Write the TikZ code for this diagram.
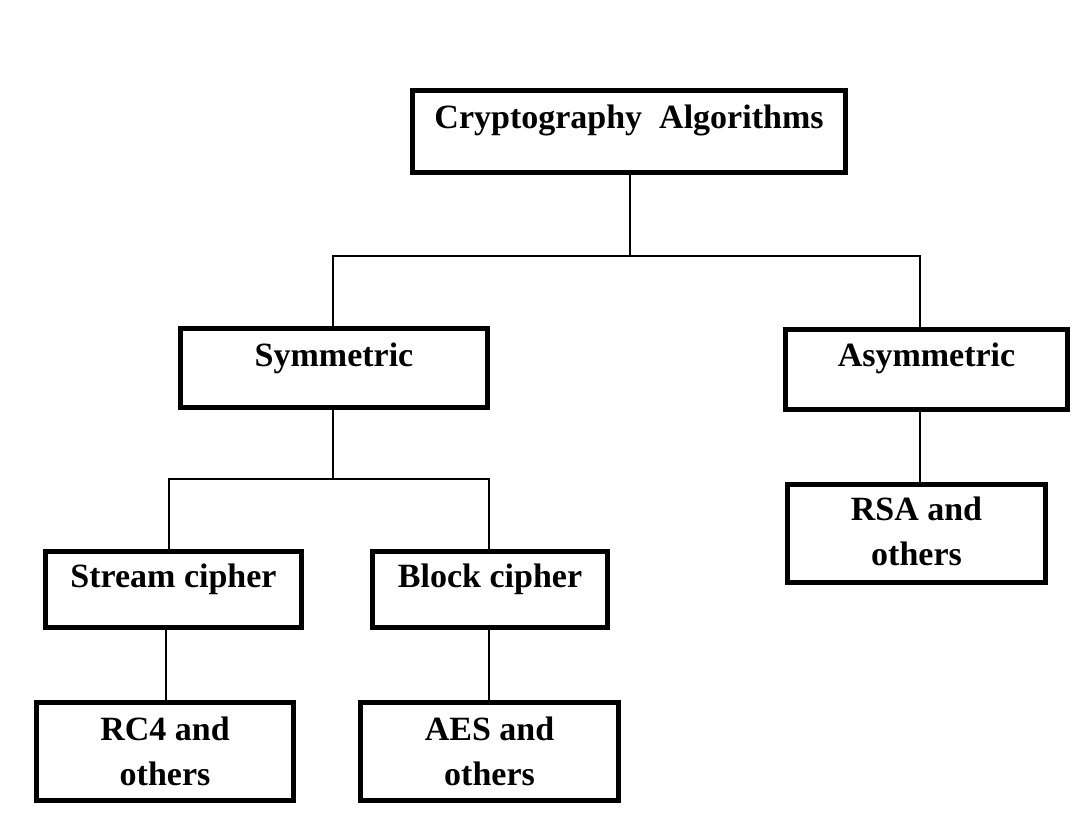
\documentclass[tikz,border=0pt]{standalone}
\usepackage{fontspec}
\setmainfont{Liberation Serif}
\begin{document}
\begin{tikzpicture}[x=1pt,y=-1pt,
  box/.style={draw, line width=4.5pt, rectangle, inner sep=0pt, outer sep=0pt},
  lbl/.style={font=\fontsize{34}{45}\selectfont\bfseries, inner sep=0pt, anchor=base, align=center},
  conn/.style={line width=1.3pt}]
\useasboundingbox (0,0) rectangle (1073,828);
% boxes
\node[box, minimum width=433pt, minimum height=82pt] (top) at (629,131.5) {};
\node[box, minimum width=307pt, minimum height=79pt] (sym) at (334,368) {};
\node[box, minimum width=282pt, minimum height=80pt] (asym) at (926.5,369.5) {};
\node[box, minimum width=256pt, minimum height=76pt] (stream) at (173.5,589.5) {};
\node[box, minimum width=235pt, minimum height=76pt] (block) at (490,589.5) {};
\node[box, minimum width=257pt, minimum height=98pt] (rc4) at (165,751.5) {};
\node[box, minimum width=258pt, minimum height=98pt] (aes) at (489.5,751.5) {};
\node[box, minimum width=258pt, minimum height=98pt] (rsa) at (916.5,533.5) {};
% labels
\node[lbl] (ttop) at (629,128) {Cryptography\ \ Algorithms};
\node[lbl] (tsym) at (334,366) {Symmetric};
\node[lbl] (tasym) at (926.5,366) {Asymmetric};
\node[lbl] (tstream) at (173.5,587) {Stream cipher};
\node[lbl] (tblock) at (490,587) {Block cipher};
\node[lbl] (trc4) at (165,785) {RC4 and\\others};
\node[lbl] (taes) at (489.5,785) {AES and\\others};
\node[lbl] (trsa) at (916.5,565) {RSA and\\others};
% junctions
\coordinate (j1) at (630,256);
\coordinate (j2) at (333,479);
% connectors
\draw[conn] ([xshift=1pt]top.south) -- (j1);
\draw[conn] ([xshift=-1pt]sym.north) |- (j1) -| ([xshift=-6.5pt]asym.north);
\draw[conn] ([xshift=-1pt]sym.south) -- (j2);
\draw[conn] ([xshift=-4.5pt]stream.north) |- (j2) -| ([xshift=-1pt]block.north);
\draw[conn] ([xshift=-7.5pt]stream.south) -- ([xshift=1pt]rc4.north);
\draw[conn] ([xshift=-1pt]block.south) -- ([xshift=-0.5pt]aes.north);
\draw[conn] ([xshift=-6.5pt]asym.south) -- ([xshift=3.5pt]rsa.north);
\end{tikzpicture}
\end{document}
